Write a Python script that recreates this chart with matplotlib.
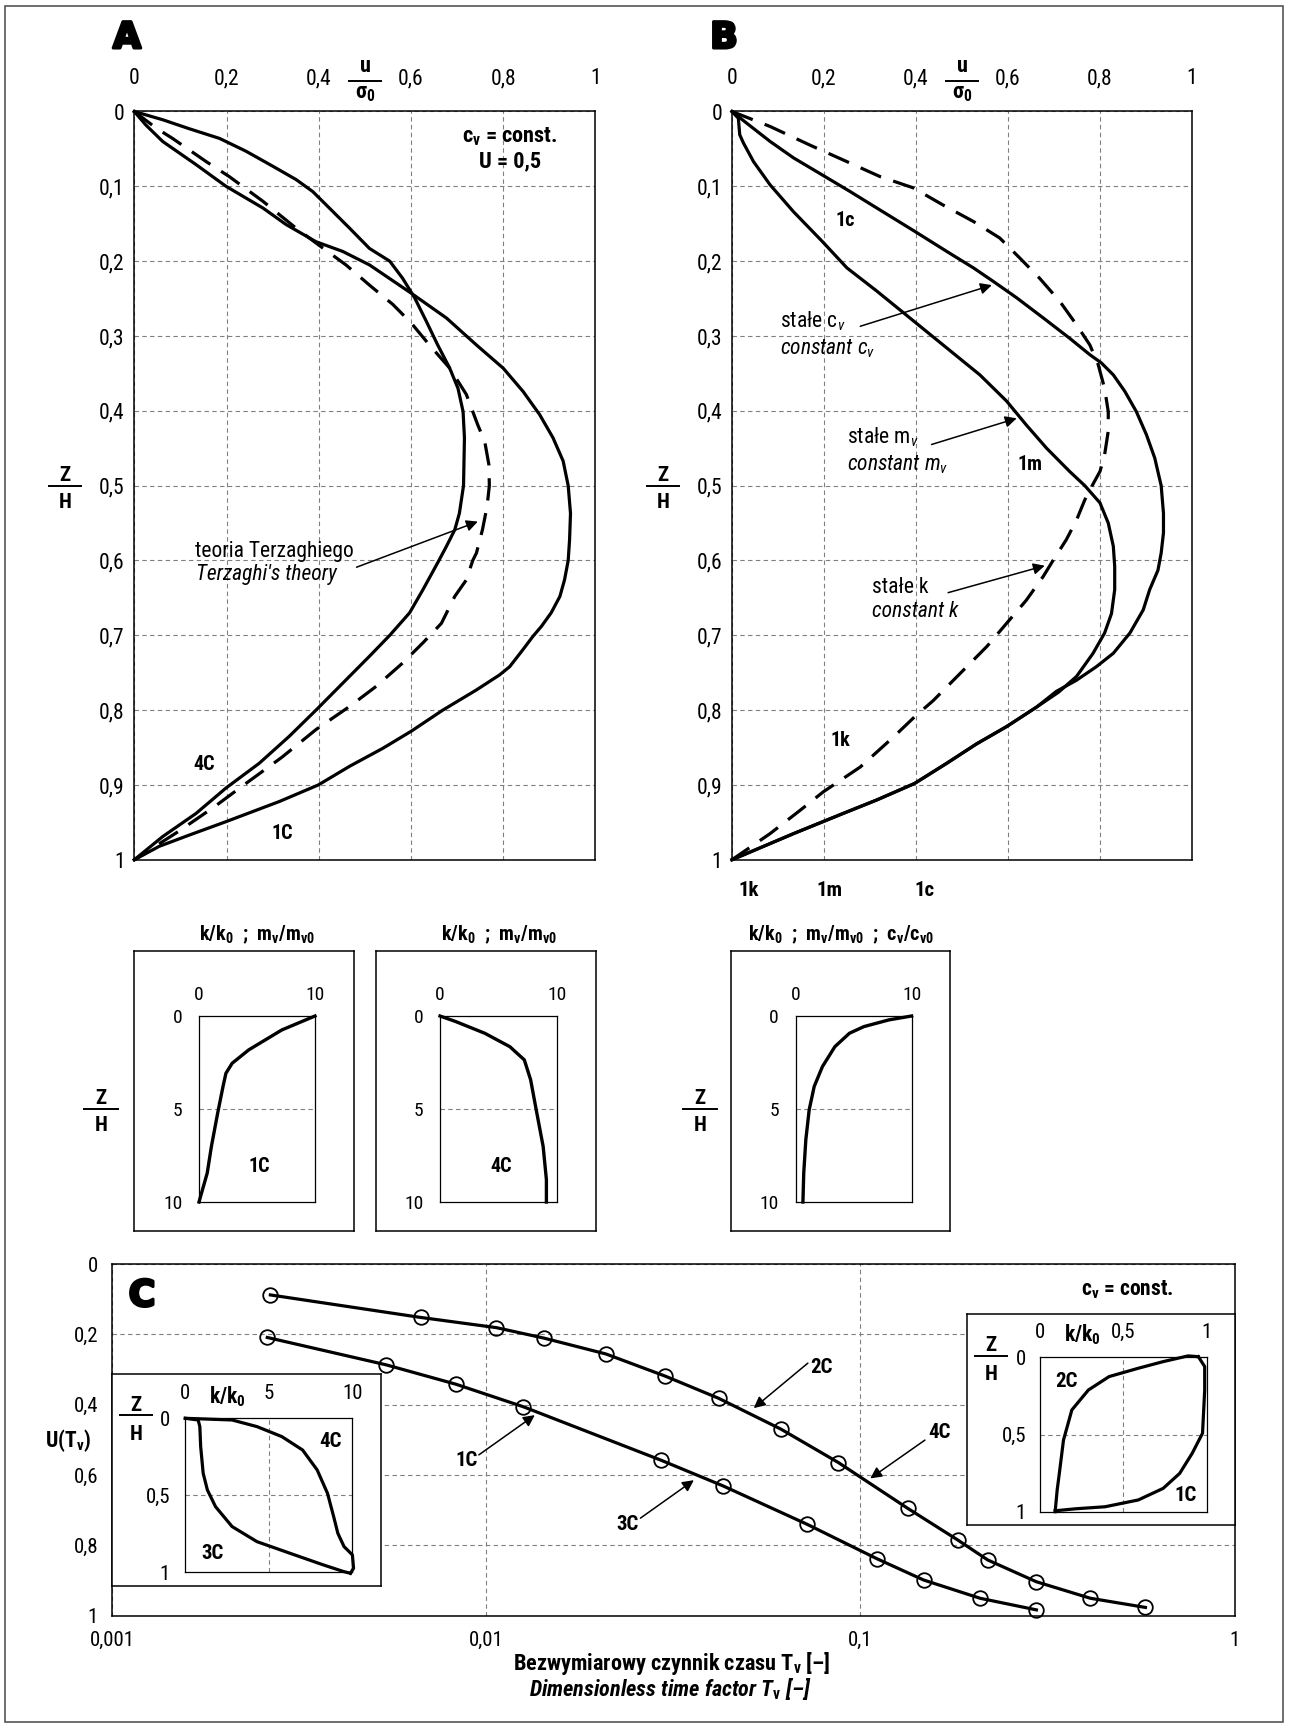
import numpy as np
import matplotlib
matplotlib.use('Agg')
import matplotlib.pyplot as plt
from matplotlib.lines import Line2D
from matplotlib.patches import Rectangle
from matplotlib.ticker import NullLocator
import matplotlib.patheffects as pe

NARROW = 'Roboto Condensed'
plt.rcParams['font.family'] = [NARROW, 'DejaVu Sans']
plt.rcParams['mathtext.fontset'] = 'custom'
plt.rcParams['mathtext.rm'] = NARROW
plt.rcParams['mathtext.it'] = NARROW + ':italic'
plt.rcParams['mathtext.bf'] = NARROW + ':bold'

# ---- panel A : isochrones u/sigma0 vs Z/H  (cv = const, U = 0,5)
a_1c_u = [0, 0.025, 0.0615, 0.134, 0.199, 0.279, 0.329, 0.394, 0.452, 0.510, 0.601, 0.677, 0.742, 0.800,
          0.843, 0.879, 0.908, 0.930, 0.941, 0.946, 0.944, 0.941, 0.933, 0.923, 0.904, 0.883, 0.865, 0.843,
          0.814, 0.792, 0.742, 0.669, 0.601, 0.539, 0.467, 0.399, 0.315, 0.199, 0.119, 0.054, 0]
a_1c_z = [0, 0.018, 0.040, 0.071, 0.100, 0.129, 0.151, 0.174, 0.187, 0.205, 0.243, 0.276, 0.312, 0.343,
          0.374, 0.405, 0.436, 0.467, 0.5, 0.537, 0.572, 0.6, 0.626, 0.648, 0.670, 0.688, 0.701, 0.719,
          0.742, 0.753, 0.773, 0.800, 0.828, 0.851, 0.875, 0.900, 0.922, 0.949, 0.967, 0.982, 1]
a_4c_u = [0, 0.0615, 0.119, 0.185, 0.242, 0.300, 0.351, 0.387, 0.423, 0.467, 0.510, 0.554, 0.582, 0.608,
          0.633, 0.658, 0.684, 0.702, 0.713, 0.716, 0.714, 0.705, 0.695, 0.677, 0.658, 0.626, 0.597, 0.554,
          0.510, 0.452, 0.394, 0.336, 0.271, 0.199, 0.134, 0.0615, 0]
a_4c_z = [0, 0.011, 0.023, 0.036, 0.053, 0.073, 0.091, 0.107, 0.129, 0.156, 0.183, 0.200, 0.223, 0.249,
          0.280, 0.312, 0.343, 0.370, 0.401, 0.436, 0.5, 0.537, 0.559, 0.581, 0.603, 0.639, 0.670, 0.700,
          0.728, 0.764, 0.800, 0.835, 0.871, 0.904, 0.938, 0.969, 1]
a_tz_u = [0, 0.047, 0.083, 0.156, 0.206, 0.279, 0.351, 0.399, 0.459, 0.510, 0.561, 0.601, 0.640, 0.684,
          0.720, 0.745, 0.760, 0.769, 0.770, 0.765, 0.755, 0.742, 0.734, 0.720, 0.695, 0.666, 0.626, 0.582,
          0.525, 0.467, 0.394, 0.320, 0.242, 0.174, 0.096, 0]
a_tz_z = [0, 0.022, 0.036, 0.067, 0.087, 0.120, 0.156, 0.178, 0.205, 0.232, 0.258, 0.283, 0.312, 0.343,
          0.378, 0.419, 0.441, 0.472, 0.5, 0.528, 0.559, 0.590, 0.6, 0.626, 0.648, 0.684, 0.710, 0.737,
          0.768, 0.795, 0.826, 0.863, 0.898, 0.929, 0.962, 1]

# ---- panel B : constant k / m_v / c_v
b_k_u = [0, 0.083, 0.170, 0.250, 0.322, 0.394, 0.459, 0.525, 0.582, 0.626, 0.669, 0.713, 0.749, 0.778,
         0.796, 0.810, 0.818, 0.818, 0.810, 0.800, 0.783, 0.767, 0.749, 0.727, 0.698, 0.677, 0.640, 0.597,
         0.554, 0.496, 0.438, 0.397, 0.351, 0.279, 0.199, 0.148, 0.083, 0]
b_k_z = [0, 0.020, 0.045, 0.067, 0.087, 0.102, 0.125, 0.147, 0.169, 0.196, 0.223, 0.254, 0.285, 0.312,
         0.338, 0.370, 0.401, 0.427, 0.459, 0.481, 0.5, 0.519, 0.546, 0.572, 0.6, 0.621, 0.653, 0.684,
         0.715, 0.751, 0.787, 0.809, 0.836, 0.876, 0.909, 0.934, 0.965, 1]
b_c_u = [0, 0.033, 0.083, 0.134, 0.197, 0.257, 0.315, 0.397, 0.467, 0.525, 0.568, 0.619, 0.677, 0.734,
         0.778, 0.803, 0.829, 0.854, 0.879, 0.901, 0.919, 0.933, 0.938, 0.938, 0.933, 0.926, 0.908, 0.894,
         0.865, 0.829, 0.792, 0.749, 0.705, 0.662, 0.597, 0.532, 0.467, 0.397, 0.315, 0.242, 0.134, 0]
b_c_z = [0, 0.016, 0.040, 0.062, 0.085, 0.107, 0.129, 0.160, 0.187, 0.209, 0.227, 0.249, 0.276, 0.303,
         0.325, 0.336, 0.352, 0.374, 0.401, 0.432, 0.463, 0.5, 0.537, 0.563, 0.590, 0.613, 0.639, 0.666,
         0.697, 0.724, 0.742, 0.760, 0.775, 0.796, 0.822, 0.845, 0.871, 0.898, 0.920, 0.938, 0.965, 1]
b_m_u = [0, 0.014, 0.017, 0.025, 0.047, 0.083, 0.134, 0.197, 0.250, 0.315, 0.397, 0.467, 0.539, 0.597,
         0.640, 0.684, 0.734, 0.767, 0.800, 0.818, 0.829, 0.832, 0.832, 0.825, 0.810, 0.785, 0.749, 0.710,
         0.662, 0.597, 0.532, 0.467, 0.397, 0.315, 0.242, 0.134, 0]
b_m_z = [0, 0.009, 0.031, 0.042, 0.067, 0.098, 0.134, 0.174, 0.209, 0.240, 0.281, 0.316, 0.352, 0.387,
         0.419, 0.450, 0.481, 0.5, 0.523, 0.550, 0.581, 0.608, 0.639, 0.671, 0.697, 0.724, 0.755, 0.776,
         0.796, 0.822, 0.845, 0.871, 0.898, 0.920, 0.938, 0.965, 1]

u_ticks = [0, 0.2, 0.4, 0.6, 0.8, 1]
u_ticklabels = ['0', '0,2', '0,4', '0,6', '0,8', '1']
z_ticks = [0, 0.1, 0.2, 0.3, 0.4, 0.5, 0.6, 0.7, 0.8, 0.9, 1]
z_ticklabels = ['0', '0,1', '0,2', '0,3', '0,4', '0,5', '0,6', '0,7', '0,8', '0,9', '1']

# ---- small profiles (k/k0 ; mv/mv0 ; cv/cv0) vs Z/H
s1_x = [10, 7.14, 4.29, 2.86, 2.32, 2.07, 1.61, 1.07, 0.71, 0]
s1_z = [0, 0.75, 1.82, 2.54, 3.08, 3.79, 5.22, 7.01, 8.44, 10]
s4_x = [0, 1.35, 3.84, 5.98, 7.22, 7.76, 8.29, 8.83, 9.11, 9.11]
s4_z = [0, 0.30, 0.93, 1.65, 2.36, 3.43, 5.22, 7.01, 8.80, 10]
s3_x = [10, 8.04, 5.89, 4.64, 3.39, 2.32, 1.61, 1.18, 0.89, 0.71, 0.64]
s3_z = [0, 0.21, 0.57, 0.93, 1.65, 2.72, 3.79, 5.04, 6.65, 8.44, 10]

# ---- panel C : U(Tv)
tv_24 = [0.00265, 0.00668, 0.01064, 0.01429, 0.0209, 0.0301, 0.0418, 0.0614, 0.0874, 0.1338, 0.182,
         0.219, 0.2955, 0.412, 0.578]
u_24 = [0.088, 0.152, 0.181, 0.211, 0.256, 0.319, 0.382, 0.470, 0.565, 0.695, 0.785, 0.842, 0.904,
        0.951, 0.977]
tv_13 = [0.0026, 0.00541, 0.0083, 0.01256, 0.0293, 0.0429, 0.0719, 0.1105, 0.1476, 0.209, 0.2955]
u_13 = [0.209, 0.287, 0.342, 0.406, 0.558, 0.631, 0.740, 0.838, 0.899, 0.951, 0.984]

# insets of C
c4_k = [0, 2.80, 4.29, 5.78, 7.02, 7.89, 8.51, 8.88, 9.13, 9.50, 10.0, 10.07, 9.88]
c4_z = [0, 0.011, 0.054, 0.119, 0.206, 0.335, 0.487, 0.639, 0.747, 0.833, 0.887, 0.974, 1.006]
c3_k = [0, 0.77, 0.87, 0.92, 1.07, 1.32, 1.81, 2.80, 4.29, 6.28, 8.26, 9.50, 9.88]
c3_z = [0, 0.011, 0.054, 0.184, 0.357, 0.465, 0.574, 0.703, 0.801, 0.877, 0.952, 0.996, 1.006]
c2_k = [0.092, 0.104, 0.117, 0.142, 0.192, 0.291, 0.415, 0.590, 0.739, 0.888, 0.950]
c2_z = [1.0, 0.860, 0.752, 0.536, 0.341, 0.212, 0.125, 0.071, 0.028, -0.009, -0.004]
c1_k = [0.950, 0.988, 0.988, 0.975, 0.913, 0.838, 0.739, 0.590, 0.391, 0.216, 0.092]
c1_z = [-0.004, 0.060, 0.212, 0.492, 0.622, 0.752, 0.849, 0.924, 0.968, 0.981, 0.994]

W, H = 1291, 1726
fig = plt.figure(figsize=(W / 100, H / 100), dpi=100)
GRID = dict(color='#808080', lw=0.8, ls=(0, (4, 3)))
ARW = dict(arrowstyle='-|>', color='k', lw=1.1, mutation_scale=17, shrinkA=0, shrinkB=0)
LBL = dict(ha='center', va='center', fontsize=14.5, fontweight='bold')
NOTE = 15.5


def rect(l, t, r, b):
    return [l / W, 1 - b / H, (r - l) / W, (b - t) / H]


def ftext(x, y, s, **kw):
    kw.setdefault('ha', 'center')
    kw.setdefault('va', 'baseline')
    return fig.text(x / W, 1 - y / H, s, **kw)


def frac(x, y, top, bot, half, dtop=5, dbot=22, size=15):
    ftext(x, y - dtop, top, fontsize=size, fontweight='bold')
    fig.add_artist(Line2D([(x - half) / W, (x + half) / W], [1 - y / H] * 2, color='k', lw=1.4))
    ftext(x, y + dbot, bot, fontsize=size, fontweight='bold')


def frame(ax, lw=1.1):
    for sp in ax.spines.values():
        sp.set_linewidth(lw)


def letter(x, y, s):
    ftext(x, y, s, fontsize=26, fontweight='bold', family='DejaVu Sans',
          path_effects=[pe.withStroke(linewidth=2.2, foreground='k')])


def profile_axes(l, r):
    ax = fig.add_axes(rect(l, 111.5, r, 859.8))
    ax.set_xlim(0, 1)
    ax.set_ylim(1, 0)
    ax.xaxis.tick_top()
    ax.set_xticks(u_ticks)
    ax.set_xticklabels(u_ticklabels)
    ax.set_yticks(z_ticks)
    ax.set_yticklabels(z_ticklabels)
    ax.tick_params(length=0, labelsize=15.5)
    ax.tick_params(axis='x', pad=16)
    ax.tick_params(axis='y', pad=7)
    ax.grid(True, **GRID)
    frame(ax)
    return ax


def small_profile(bl, br, il, ir, x, z, label=None):
    box = fig.add_axes(rect(bl, 951, br, 1230.7))
    box.set_xticks([])
    box.set_yticks([])
    frame(box)
    ax = fig.add_axes(rect(il, 1016, ir, 1202))
    ax.set_xlim(0, 10)
    ax.set_ylim(10, 0)
    ax.xaxis.tick_top()
    ax.set_xticks([0, 10])
    ax.set_yticks([0, 5, 10])
    ax.tick_params(length=0, labelsize=14)
    ax.tick_params(axis='x', pad=9)
    ax.tick_params(axis='y', pad=12)
    ax.axhline(5, **GRID)
    ax.plot(x, z, color='k', lw=2.4, clip_on=False)
    if label:
        ax.text(5.2, 8.1, label, **LBL)
    frame(ax, 0.9)
    return ax


# outer frame
fig.add_artist(Rectangle((5 / W, 1 - 1722 / H), 1278 / W, 1716 / H, fill=False, ec='#555555', lw=1.2))

# ---------------- A
axa = profile_axes(134.3, 595.4)
axa.plot(a_1c_u, a_1c_z, color='k', lw=2.3, clip_on=False)
axa.plot(a_4c_u, a_4c_z, color='k', lw=2.3, clip_on=False)
axa.plot(a_tz_u, a_tz_z, color='k', lw=2.3, ls=(0, (7, 4)), clip_on=False)
axa.text(0.151, 0.872, '4C', **LBL)
axa.text(0.320, 0.965, '1C', **LBL)
axa.text(0.132, 0.595, 'teoria Terzaghiego', fontsize=NOTE)
axa.text(0.134, 0.626, "Terzaghi's theory", fontsize=NOTE, style='italic')
axa.annotate('', xy=(0.745, 0.548), xytext=(0.482, 0.609), arrowprops=ARW)
ftext(510, 142, r'c$_\mathbf{v}$ = const.', fontsize=16, fontweight='bold')
ftext(510, 167, 'U = 0,5', fontsize=16, fontweight='bold')
letter(127, 48, 'A')
frac(365, 81, 'u', r'σ$_\mathbf{0}$', 16, dtop=9, dbot=17, size=16)
frac(65, 486, 'Z', 'H', 16)

# ---------------- B
axb = profile_axes(731.9, 1192)
axb.plot(b_c_u, b_c_z, color='k', lw=2.3, clip_on=False)
axb.plot(b_m_u, b_m_z, color='k', lw=2.3, clip_on=False)
axb.plot(b_k_u, b_k_z, color='k', lw=2.3, ls=(0, (7, 4)), clip_on=False)
axb.text(0.246, 0.145, '1c', **LBL)
axb.text(0.647, 0.472, '1m', **LBL)
axb.text(0.235, 0.840, '1k', **LBL)
axb.text(0.105, 0.289, r'stałe c$_v$', fontsize=NOTE)
axb.text(0.105, 0.325, r'constant c$_v$', fontsize=NOTE, style='italic')
axb.annotate('', xy=(0.565, 0.232), xytext=(0.279, 0.287), arrowprops=ARW)
axb.text(0.250, 0.443, r'stałe m$_v$', fontsize=NOTE)
axb.text(0.250, 0.479, r'constant m$_v$', fontsize=NOTE, style='italic')
axb.annotate('', xy=(0.619, 0.410), xytext=(0.434, 0.445), arrowprops=ARW)
axb.text(0.304, 0.643, 'stałe k', fontsize=NOTE)
axb.text(0.304, 0.675, 'constant k', fontsize=NOTE, style='italic')
axb.annotate('', xy=(0.680, 0.607), xytext=(0.470, 0.643), arrowprops=ARW)
for s, xp in zip(['1k', '1m', '1c'], [749, 829, 925]):
    ftext(xp, 890, s, fontsize=15, fontweight='bold', va='center')
letter(724, 48, 'B')
frac(962, 81, 'u', r'σ$_\mathbf{0}$', 16, dtop=9, dbot=17, size=16)
frac(663, 486, 'Z', 'H', 16)

# ---------------- small profiles
small_profile(134, 353.7, 199, 315, s1_x, s1_z, '1C')
small_profile(376.4, 595.8, 440, 556.8, s4_x, s4_z, '4C')
small_profile(731.2, 950, 795.5, 911.6, s3_x, s3_z)
ftext(257, 940, r'k/k$_\mathbf{0}$  ;  m$_\mathbf{v}$/m$_\mathbf{v0}$', fontsize=14.5, fontweight='bold')
ftext(499, 940, r'k/k$_\mathbf{0}$  ;  m$_\mathbf{v}$/m$_\mathbf{v0}$', fontsize=14.5, fontweight='bold')
ftext(841, 940, r'k/k$_\mathbf{0}$  ;  m$_\mathbf{v}$/m$_\mathbf{v0}$  ;  c$_\mathbf{v}$/c$_\mathbf{v0}$',
      fontsize=14.5, fontweight='bold')
frac(101, 1109, 'Z', 'H', 17)
frac(700, 1109, 'Z', 'H', 17)

# ---------------- C
axc = fig.add_axes(rect(112, 1264, 1234.5, 1615.5))
axc.set_xscale('log')
axc.set_xlim(0.001, 1)
axc.set_ylim(1, 0)
axc.set_xticks([0.001, 0.01, 0.1, 1])
axc.set_xticklabels(['0,001', '0,01', '0,1', '1'])
axc.xaxis.set_minor_locator(NullLocator())
axc.set_yticks([0, 0.2, 0.4, 0.6, 0.8, 1])
axc.set_yticklabels(['0', '0,2', '0,4', '0,6', '0,8', '1'])
axc.tick_params(length=0, labelsize=15)
axc.tick_params(axis='x', pad=11)
axc.tick_params(axis='y', pad=10)
axc.grid(True, **GRID)
frame(axc)
mk = dict(color='k', lw=2.3, marker='o', ms=10.5, mfc='none', mec='k', mew=1.3, clip_on=False)
axc.plot(tv_24, u_24, **mk)
axc.plot(tv_13, u_13, **mk)
CL = dict(LBL, fontsize=15)
axc.text(0.0787, 0.294, '2C', **CL)
axc.annotate('', xy=(0.0519, 0.410), xytext=(0.0724, 0.282), arrowprops=ARW)
axc.text(0.1632, 0.479, '4C', **CL)
axc.annotate('', xy=(0.1063, 0.610), xytext=(0.1488, 0.501), arrowprops=ARW)
axc.text(0.00886, 0.560, '1C', **CL)
axc.annotate('', xy=(0.01349, 0.430), xytext=(0.00956, 0.543), arrowprops=ARW)
axc.text(0.02393, 0.740, '3C', **CL)
axc.annotate('', xy=(0.0359, 0.615), xytext=(0.02584, 0.723), arrowprops=ARW)
ftext(1127, 1295, r'c$_\mathbf{v}$ = const.', fontsize=15.5, fontweight='bold')
letter(142, 1306, 'C')
ftext(68, 1441, r'U(T$_\mathbf{v}$)', fontsize=15.5, fontweight='bold', va='center')
ftext(672, 1670, r'Bezwymiarowy czynnik czasu T$_\mathbf{v}$ [–]', fontsize=16, fontweight='bold')
ftext(670, 1696, r'Dimensionless time factor T$_\mathbf{v}$ [–]', fontsize=16, fontweight='bold',
      style='italic')

# left inset of C (3C, 4C)
box = fig.add_axes(rect(112, 1374.3, 380.6, 1585.7))
box.set_xticks([])
box.set_yticks([])
frame(box)
axl = fig.add_axes(rect(185.3, 1418.3, 352.4, 1572.3))
axl.set_xlim(0, 10)
axl.set_ylim(1, 0)
axl.xaxis.tick_top()
axl.set_xticks([0, 5, 10])
axl.set_yticks([0, 0.5, 1])
axl.set_yticklabels(['0', '0,5', '1'])
axl.tick_params(length=0, labelsize=15)
axl.tick_params(axis='x', pad=11)
axl.tick_params(axis='y', pad=11)
axl.axvline(5, **GRID)
axl.axhline(0.5, **GRID)
axl.plot(c4_k, c4_z, color='k', lw=2.3, clip_on=False)
axl.plot(c3_k, c3_z, color='k', lw=2.3, clip_on=False)
axl.text(8.71, 0.152, '4C', **CL)
axl.text(1.66, 0.877, '3C', **CL)
frame(axl, 0.9)
ftext(227, 1403, r'k/k$_\mathbf{0}$', fontsize=15.5, fontweight='bold')
frac(136, 1415, 'Z', 'H', 16, dtop=4, dbot=25)

# right inset of C (1C, 2C)
box = fig.add_axes(rect(966.7, 1314, 1234.5, 1525))
box.set_xticks([])
box.set_yticks([])
frame(box)
axr = fig.add_axes(rect(1039.8, 1357.3, 1206.7, 1511.7))
axr.set_xlim(0, 1)
axr.set_ylim(1, 0)
axr.xaxis.tick_top()
axr.set_xticks([0, 0.5, 1])
axr.set_xticklabels(['0', '0,5', '1'])
axr.set_yticks([0, 0.5, 1])
axr.set_yticklabels(['0', '0,5', '1'])
axr.tick_params(length=0, labelsize=15)
axr.tick_params(axis='x', pad=11)
axr.tick_params(axis='y', pad=10)
axr.axvline(0.5, **GRID)
axr.axhline(0.5, **GRID)
axr.plot(c2_k, c2_z, color='k', lw=2.3, clip_on=False)
axr.plot(c1_k, c1_z, color='k', lw=2.3, clip_on=False)
axr.text(0.157, 0.158, '2C', **CL)
axr.text(0.876, 0.895, '1C', **CL)
frame(axr, 0.9)
ftext(1082, 1341, r'k/k$_\mathbf{0}$', fontsize=15.5, fontweight='bold')
frac(991, 1356, 'Z', 'H', 16, dtop=5, dbot=24)

fig.savefig('out.png', dpi=100)
